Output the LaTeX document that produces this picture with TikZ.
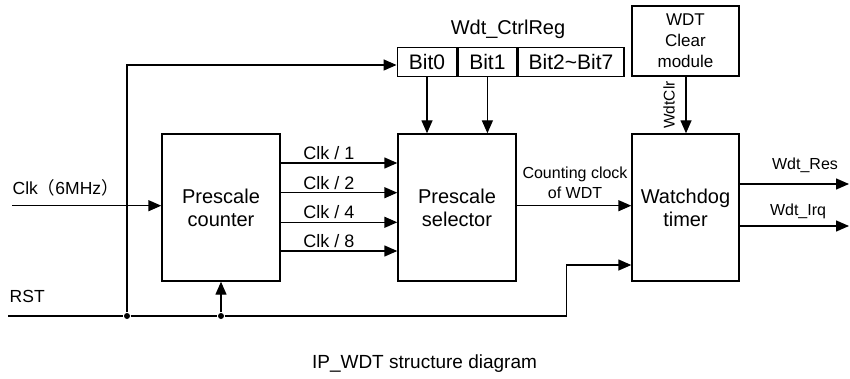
\documentclass[tikz,border=0pt]{standalone}
\usepackage{fontspec}
\setmainfont{Liberation Sans}
\newfontfamily\cjk{Noto Sans CJK SC}
\usetikzlibrary{arrows.meta}
\begin{document}
\begin{tikzpicture}[x=1pt,y=-1pt,
  line width=1.4pt,
  blk/.style={draw,rectangle,inner sep=0pt,align=center,font=\fontsize{20}{23}\selectfont},
  regbox/.style={draw,rectangle,inner sep=0pt,minimum height=29pt,font=\fontsize{21}{23}\selectfont},
  arr/.style={-{Triangle[length=13pt,width=11pt]}},
  lbl/.style={inner sep=0pt,font=\fontsize{18}{21}\selectfont},
  slbl/.style={inner sep=0pt,align=center,font=\fontsize{16}{20}\selectfont},
  dot/.style={circle,fill,inner sep=0pt,minimum size=6pt}]
\useasboundingbox (0,0) rectangle (850,379);

% blocks
\node[blk,minimum width=118pt,minimum height=147pt] (pc) at (221,207.5) {Prescale\\counter};
\node[blk,minimum width=118pt,minimum height=147pt] (ps) at (457,207.5) {Prescale\\selector};
\node[blk,minimum width=107pt,minimum height=147pt] (wt) at (685.5,207.5) {Watchdog\\timer};
\node[blk,minimum width=107pt,minimum height=70pt,font=\fontsize{17}{21}\selectfont] (wc) at (685.5,41) {WDT\\Clear\\module};

% register
\node[regbox,minimum width=59.5pt] (b0) at (427,62) {Bit0};
\node[regbox,minimum width=58.5pt,anchor=west] (b1) at (b0.east) {Bit1};
\node[regbox,minimum width=106pt,anchor=west] (b2) at (b1.east) {Bit2\textasciitilde Bit7};
\node[lbl,font=\fontsize{20}{23}\selectfont] (regl) at (508,29) {Wdt\_CtrlReg};

% inputs / coordinates
\coordinate (clkin) at (12,205.7);
\coordinate (rstL) at (8,316);
\node[dot] (j1) at (127,316) {};
\node[dot] (j2) at (221,316) {};
\coordinate (rstC) at (566.7,316);
\coordinate (res) at (849,184);
\coordinate (irq) at (849,226);

\node[lbl,anchor=west,font=\fontsize{17.5}{21}\selectfont] (clkl) at (12,187.7) {Clk{\cjk （}6MHz{\cjk ）}};
\node[lbl,anchor=west,font=\fontsize{17.5}{21}\selectfont] (rstl) at (9,296.7) {RST};

% clock input
\draw[arr] (clkin) -- (pc.west |- clkin);

% RST
\draw (rstL) -- (j1) -- (j2) -- (rstC);
\draw[arr] (rstC) |- (wt.west |- 0,265);
\draw[arr] (j1) |- (b0.west |- 0,65);
\draw[arr] (j2) -- (pc.south);

% divided clocks
\foreach \yy/\t in {163/1,192.7/2,222.3/4,251/8}{
  \draw[arr] (pc.east |- 0,\yy) -- (ps.west |- 0,\yy);
  \node[lbl] at (329,\yy-10) {Clk / \t};
}

% register bits to selector
\draw[arr] (b0.south) -- (b0.south |- ps.north);
\draw[arr] (b1.south) -- (b1.south |- ps.north);

% selector to watchdog
\draw[arr] (ps.east |- 0,205.7) -- (wt.west |- 0,205.7);
\node[slbl] (ccl) at (575,182.5) {Counting clock\\of WDT};

% clear
\draw[arr] (wc.south -| 686,0) -- (wt.north -| 686,0);
\node[inner sep=0pt,rotate=90,font=\fontsize{15.5}{18}\selectfont] (clrl) at (669,105) {WdtClr};

% outputs
\draw[arr] (wt.east |- res) -- (res);
\draw[arr] (wt.east |- irq) -- (irq);
\node[slbl] (resl) at (805,165.7) {Wdt\_Res};
\node[slbl] (irql) at (798,211.7) {Wdt\_Irq};

% caption
\node[lbl,font=\fontsize{19}{22}\selectfont] (cap) at (424.5,364) {IP\_WDT structure diagram};
\end{tikzpicture}
\end{document}
